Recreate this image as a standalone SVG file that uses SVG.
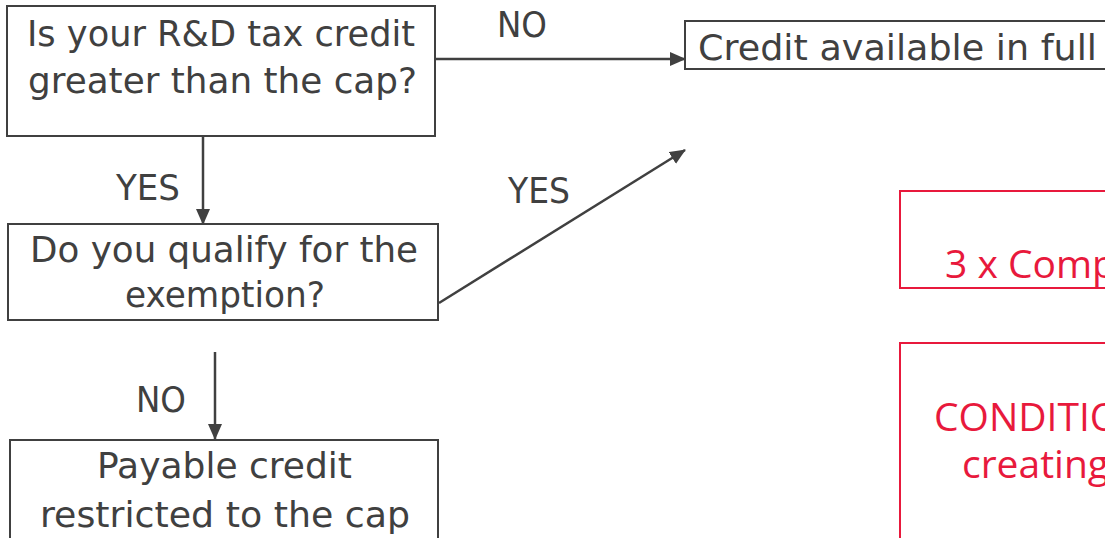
<svg xmlns="http://www.w3.org/2000/svg" width="1105" height="538" viewBox="0 0 1105 538">
<style>
.box{fill:#fff;stroke:#404040;stroke-width:2}
.rbox{fill:none;stroke:#e8193c;stroke-width:2}
.t{font-family:"DejaVu Sans",sans-serif;font-size:35px;fill:#404040}
.r{font-family:"Open Sans","Noto Sans",sans-serif;font-size:39px;fill:#e8193c}
.c{stroke:#404040;stroke-width:2.5;fill:none;marker-end:url(#ah)}
</style>
<defs>
<marker id="ah" markerWidth="16" markerHeight="14" refX="15" refY="7" orient="auto" markerUnits="userSpaceOnUse">
<path d="M0,0 L16,7 L0,14 Z" fill="#404040"/>
</marker>
</defs>
<rect width="1105" height="538" fill="#fff"/>
<g id="connectors">
<line class="c" x1="436" y1="59" x2="685" y2="59"/>
<line class="c" x1="203" y1="136" x2="203" y2="224"/>
<line class="c" x1="439" y1="303" x2="685" y2="150"/>
<line class="c" x1="215" y1="352" x2="215" y2="439"/>
<text class="t" x="497" y="37" textLength="50" lengthAdjust="spacingAndGlyphs">NO</text>
<text class="t" x="116" y="200" textLength="64" lengthAdjust="spacingAndGlyphs">YES</text>
<text class="t" x="508" y="203" textLength="62" lengthAdjust="spacingAndGlyphs">YES</text>
<text class="t" x="136" y="412" textLength="50" lengthAdjust="spacingAndGlyphs">NO</text>
</g>
<g id="q1">
<rect class="box" x="7" y="6" width="428" height="130"/>
<text class="t" x="27" y="46" textLength="388" lengthAdjust="spacingAndGlyphs">Is your R&amp;D tax credit</text>
<text class="t" x="28" y="93" textLength="389" lengthAdjust="spacingAndGlyphs">greater than the cap?</text>
</g>
<g id="full">
<rect class="box" x="685" y="21" width="440" height="48"/>
<text class="t" x="698" y="60" textLength="399" lengthAdjust="spacingAndGlyphs">Credit available in full</text>
</g>
<g id="q2">
<rect class="box" x="8" y="224" width="430" height="96"/>
<text class="t" x="30" y="262" textLength="388" lengthAdjust="spacingAndGlyphs">Do you qualify for the</text>
<text class="t" x="125" y="307" textLength="200" lengthAdjust="spacingAndGlyphs">exemption?</text>
</g>
<g id="restricted">
<rect class="box" x="10" y="440" width="428" height="110"/>
<text class="t" x="97" y="478" textLength="255" lengthAdjust="spacingAndGlyphs">Payable credit</text>
<text class="t" x="40" y="527" textLength="370" lengthAdjust="spacingAndGlyphs">restricted to the cap</text>
</g>
<g id="red1">
<rect class="rbox" x="900" y="191" width="240" height="97"/>
<text class="r" x="945" y="278">3 x Comp</text>
</g>
<g id="red2">
<rect class="rbox" x="900" y="343" width="240" height="220"/>
<text class="r" x="934" y="431">CONDITIO</text>
<text class="r" x="962" y="478">creating</text>
</g>
</svg>
